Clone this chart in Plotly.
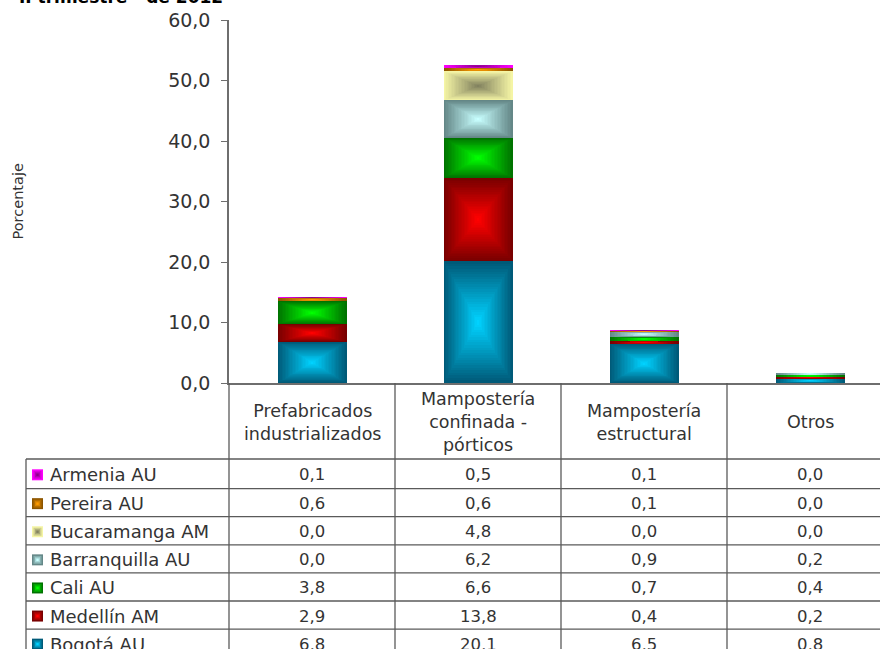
import plotly.graph_objects as go

# ---------------- data ----------------
categories = ["Prefabricados<br>industrializados",
              "Mampostería<br>confinada -<br>pórticos",
              "Mampostería<br>estructural",
              "Otros"]
series_names = ["Bogotá AU", "Medellín AM", "Cali AU", "Barranquilla AU",
                "Bucaramanga AM", "Pereira AU", "Armenia AU"]
bogota = [6.8, 20.1, 6.5, 0.8]
medellin = [2.9, 13.8, 0.4, 0.2]
cali = [3.8, 6.6, 0.7, 0.4]
barranquilla = [0.0, 6.2, 0.9, 0.2]
bucaramanga = [0.0, 4.8, 0.0, 0.0]
pereira = [0.6, 0.6, 0.1, 0.0]
armenia = [0.1, 0.5, 0.1, 0.0]
series_values = [bogota, medellin, cali, barranquilla, bucaramanga, pereira, armenia]
y_ticks = [0, 10, 20, 30, 40, 50, 60]
y_tick_labels = ["0,0", "10,0", "20,0", "30,0", "40,0", "50,0", "60,0"]
title_text = "II trimestre - de 2012"
y_title = "Porcentaje"

# ---------------- styles ----------------
# rectangular ("path") gradient: colour at the edge -> colour at the centre
edge_rgb = [(0, 90, 120), (120, 0, 0), (0, 115, 0), (100, 135, 135),
            (245, 245, 165), (140, 85, 0), (255, 0, 255)]
center_rgb = [(0, 210, 255), (255, 0, 0), (0, 255, 0), (200, 255, 255),
              (130, 130, 95), (255, 155, 0), (140, 0, 140)]
N_STEPS = 24

W, H = 880, 649
AX_L, AX_TOP, AX_BOT = 229, 20, 383
COLW = 166
BAR_W = 69 / COLW
HEADER_BOT = 459
ROW_TOP, ROW_H = 460.5, 28.1
LEG_L = 26
TXT = "#333333"
GRID = "#5a5a5a"
FONT = "DejaVu Sans"


def px(x):
    return x / W


def py(y):
    return 1 - y / H


def mix(a, b, t):
    return "rgb(%d,%d,%d)" % tuple(round(a[j] * (1 - t) + b[j] * t) for j in range(3))


fig = go.Figure()
n_cols = len(categories)
xs = list(range(n_cols))
cum = [0.0] * n_cols
for s, (name, vals) in enumerate(zip(series_names, series_values)):
    bases = cum[:]
    for k in range(N_STEPS):
        f = k / N_STEPS
        col = mix(edge_rgb[s], center_rgb[s], k / (N_STEPS - 1))
        fig.add_trace(go.Bar(
            x=xs,
            y=[v * (1 - f) for v in vals],
            base=[b + v * f / 2 for b, v in zip(bases, vals)],
            width=BAR_W * (1 - f),
            marker=dict(color=col, line=dict(width=0)),
            name=name, showlegend=False,
            customdata=vals,
            hovertemplate=name + ": %{customdata:.1f}<extra></extra>",
            hoverinfo=None if k == 0 else "skip",
        ))
    cum = [c + v for c, v in zip(cum, vals)]

shapes = []
annotations = []

# vertical table lines at category boundaries
for k in range(n_cols + 1):
    xk = AX_L + k * COLW
    if xk <= W:
        shapes.append(dict(type="line", xref="paper", yref="paper",
                           x0=px(xk), x1=px(xk), y0=py(AX_BOT), y1=py(H + 5),
                           line=dict(color=GRID, width=1.3)))
# legend column left border
shapes.append(dict(type="line", xref="paper", yref="paper",
                   x0=px(LEG_L), x1=px(LEG_L), y0=py(HEADER_BOT), y1=py(H + 5),
                   line=dict(color=GRID, width=1.3)))
# horizontal row lines
n_rows = len(series_names)
row_lines = [HEADER_BOT] + [ROW_TOP + ROW_H * (r + 1) for r in range(n_rows)]
for yl in row_lines:
    if yl <= H:
        shapes.append(dict(type="line", xref="paper", yref="paper",
                           x0=px(LEG_L), x1=1.0, y0=py(yl), y1=py(yl),
                           line=dict(color=GRID, width=1.3)))

# header texts
for i, cat in enumerate(categories):
    cx = AX_L + (i + 0.5) * COLW
    annotations.append(dict(text=cat, xref="paper", yref="paper",
                            x=px(cx), y=py((AX_BOT + HEADER_BOT) / 2 + 1),
                            xanchor="center", yanchor="middle", showarrow=False,
                            font=dict(family=FONT, size=17.5, color=TXT)))

# rows (reverse order: Armenia on top)
for r, idx in enumerate(reversed(range(n_rows))):
    top = HEADER_BOT if r == 0 else ROW_TOP + ROW_H * r
    bot = ROW_TOP + ROW_H * (r + 1)
    cy = (top + bot) / 2 + 1
    # legend key with small rectangular gradient
    for k, half in enumerate([5.5, 4.0, 2.5, 1.2]):
        shapes.append(dict(type="rect", xref="paper", yref="paper",
                           x0=px(37.5 - half), x1=px(37.5 + half),
                           y0=py(cy - half), y1=py(cy + half),
                           fillcolor=mix(edge_rgb[idx], center_rgb[idx], k / 3),
                           line=dict(width=0)))
    annotations.append(dict(text=series_names[idx], xref="paper", yref="paper",
                            x=px(48), y=py(cy), xanchor="left", yanchor="middle",
                            showarrow=False,
                            font=dict(family=FONT, size=18, color=TXT)))
    for i in range(n_cols):
        cx = AX_L + (i + 0.5) * COLW
        annotations.append(dict(text=f"{series_values[idx][i]:.1f}".replace(".", ","),
                                xref="paper", yref="paper",
                                x=px(cx), y=py(cy), xanchor="center", yanchor="middle",
                                showarrow=False,
                                font=dict(family=FONT, size=16.5, color=TXT)))

# title (cut off at the top in the reference)
annotations.append(dict(text="<b>" + title_text + "</b>", xref="paper", yref="paper",
                        x=px(17), y=py(9), xanchor="left", yanchor="bottom",
                        showarrow=False,
                        font=dict(family=FONT, size=17, color="#000000")))
# y axis title
annotations.append(dict(text=y_title, xref="paper", yref="paper",
                        x=px(17), y=py((AX_TOP + AX_BOT) / 2), textangle=-90,
                        xanchor="center", yanchor="middle", showarrow=False,
                        font=dict(family=FONT, size=14.5, color=TXT)))

fig.update_layout(
    width=W, height=H,
    margin=dict(l=0, r=0, t=0, b=0, autoexpand=False),
    paper_bgcolor="white", plot_bgcolor="white",
    barmode="overlay", bargap=0,
    shapes=shapes, annotations=annotations,
    xaxis=dict(domain=[px(AX_L), 1.0], range=[-0.5, -0.5 + (W - AX_L) / COLW],
               showticklabels=False, ticks="", showgrid=False, zeroline=False,
               showline=True, linecolor="#6e6e6e", linewidth=1.5, fixedrange=True),
    yaxis=dict(domain=[py(AX_BOT), py(AX_TOP)], range=[0, 60],
               tickvals=y_ticks, ticktext=y_tick_labels,
               ticks="outside", ticklen=6, tickcolor="#6e6e6e", tickwidth=1.2,
               ticklabelstandoff=7,
               tickfont=dict(family=FONT, size=19, color=TXT),
               showgrid=False, zeroline=False,
               showline=True, linecolor="#6e6e6e", linewidth=1.5, fixedrange=True),
)

fig.write_html("out.html",
               config={"displayModeBar": False},
               post_script="document.body.style.margin='0px';"
                           "document.body.style.overflow='hidden';")
